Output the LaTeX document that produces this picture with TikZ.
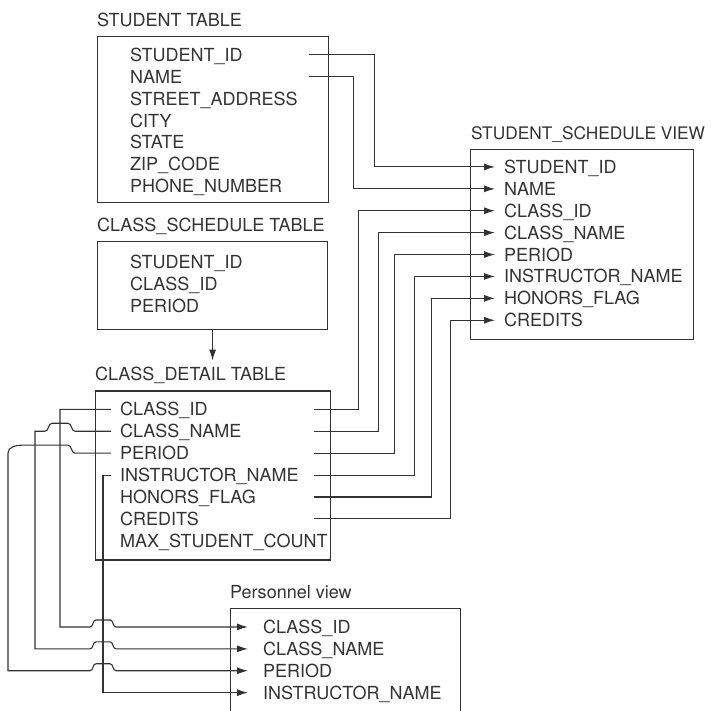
\documentclass[tikz,border=0pt]{standalone}
\usepackage{fontspec}
\setmainfont{TeX Gyre Heros}
\usetikzlibrary{positioning,arrows.meta}

\begin{document}
\begin{tikzpicture}[
    x=1pt, y=-1pt,
    font=\fontsize{18}{21.5}\selectfont,
    every node/.style={text=black!80},
    tbl/.style={draw=black!80, line width=1.2pt, anchor=north west, inner sep=0pt},
    tbltitle/.style={inner sep=0pt, text height=17.2pt, text depth=4.3pt},
    fld/.style={inner sep=0pt, text height=17.2pt, text depth=4.3pt},
    fldafter/.style={fld, below right=0pt and 0pt of #1.south west},
    link/.style={draw=black!80, line width=1.1pt},
    arrow/.style={link, -{Latex[length=11pt, width=7pt]}},
    hop/.style={insert path={to[out=0,in=180] ++(6,-7) -- ++(14,0) to[out=0,in=180] ++(6,7)}},
    hopl/.style={insert path={to[out=180,in=0] ++(-7,-8) -- ++(-16,0) to[out=180,in=0] ++(-7,8)}},
]
\useasboundingbox (0,0) rectangle (711,711);

% student table
\node[tbl, minimum width=231pt, minimum height=166pt] (stu) at (97,36) {};
\node[tbltitle, above right=5pt and 0pt of stu.north west] (stut) {STUDENT TABLE};
\node[fld, below right=8pt and 33pt of stu.north west] (s1) {STUDENT\_ID};
\node[fldafter=s1] (s2) {NAME};
\node[fldafter=s2] (s3) {STREET\_ADDRESS};
\node[fldafter=s3] (s4) {CITY};
\node[fldafter=s4] (s5) {STATE};
\node[fldafter=s5] (s6) {ZIP\_CODE};
\node[fldafter=s6] (s7) {PHONE\_NUMBER};

% class schedule table
\node[tbl, minimum width=230pt, minimum height=88pt, below right=38pt and 0pt of stu.south west] (cs) {};
\node[tbltitle, above right=5pt and 0pt of cs.north west] (cst) {CLASS\_SCHEDULE TABLE};
\node[fld, below right=10pt and 33pt of cs.north west] (c1) {STUDENT\_ID};
\node[fldafter=c1] (c2) {CLASS\_ID};
\node[fldafter=c2] (c3) {PERIOD};

% class detail table
\node[tbl, minimum width=235pt, minimum height=169pt, below right=60pt and -2pt of cs.south west] (cd) {};
\node[tbltitle, above right=5pt and 0pt of cd.north west] (cdt) {CLASS\_DETAIL TABLE};
\node[fld, below right=8pt and 25pt of cd.north west] (d1) {CLASS\_ID};
\node[fldafter=d1] (d2) {CLASS\_NAME};
\node[fldafter=d2] (d3) {PERIOD};
\node[fldafter=d3] (d4) {INSTRUCTOR\_NAME};
\node[fldafter=d4] (d5) {HONORS\_FLAG};
\node[fldafter=d5] (d6) {CREDITS};
\node[fldafter=d6] (d7) {MAX\_STUDENT\_COUNT};

% student schedule view
\node[tbl, minimum width=223pt, minimum height=190pt] (vw) at (470,149) {};
\node[tbltitle, font=\fontsize{17.3}{21.5}\selectfont, above right=5pt and 1pt of vw.north west] (vwt) {STUDENT\_SCHEDULE VIEW};
\node[fld, below right=7pt and 34pt of vw.north west] (v1) {STUDENT\_ID};
\node[fldafter=v1] (v2) {NAME};
\node[fldafter=v2] (v3) {CLASS\_ID};
\node[fldafter=v3] (v4) {CLASS\_NAME};
\node[fldafter=v4] (v5) {PERIOD};
\node[fldafter=v5] (v6) {INSTRUCTOR\_NAME};
\node[fldafter=v6] (v7) {HONORS\_FLAG};
\node[fldafter=v7] (v8) {CREDITS};

% personnel view
\node[tbl, minimum width=230pt, minimum height=120pt] (pv) at (230,608) {};
\node[tbltitle, above right=5pt and 0pt of pv.north west] (pvt) {Personnel view};
\node[fld, below right=8pt and 33pt of pv.north west] (p1) {CLASS\_ID};
\node[fldafter=p1] (p2) {CLASS\_NAME};
\node[fldafter=p2] (p3) {PERIOD};
\node[fldafter=p3] (p4) {INSTRUCTOR\_NAME};

\coordinate (stuR) at ([xshift=-20pt]stu.east);
\coordinate (detR) at ([xshift=-17pt]cd.east);
\coordinate (detL) at ([xshift=16pt]cd.west);
\coordinate (laneA) at (60,0);
\coordinate (laneB) at (35,0);
\coordinate (laneC) at (8,0);
\coordinate (laneI) at (103,0);

\draw[arrow, shorten >=3pt] (cs.south) -- (cs.south |- cdt.north);

\draw[arrow] (s1 -| stuR) -- ++(65,0) |- ([xshift=-9pt]v1.west);
\draw[arrow] (s2 -| stuR) -- ++(44,0) |- ([xshift=-9pt]v2.west);

\draw[arrow] (d1 -| detR) -- ++(44,0) |- ([xshift=-9pt]v3.west);
\draw[arrow] (d2 -| detR) -- ++(64,0) |- ([xshift=-9pt]v4.west);
\draw[arrow] (d3 -| detR) -- ++(80,0) |- ([xshift=-9pt]v5.west);
\draw[arrow] (d4 -| detR) -- ++(100,0) |- ([xshift=-9pt]v6.west);
\draw[arrow] (d5 -| detR) -- ++(117,0) |- ([xshift=-9pt]v7.west);
\draw[arrow] (d6 -| detR) -- ++(136,0) |- ([xshift=-9pt]v8.west);

\draw[arrow] (d1 -| detL) -| (p1 -| laneA) -- ([xshift=-13pt]p1 -| laneI) [hop] -- ([xshift=-15pt]p1.west);
\draw[arrow] (d2 -| detL) -- ([xshift=15pt]d2 -| laneA) [hopl] -- (d2 -| laneB) |- ([xshift=-13pt]p2 -| laneI) [hop] -- ([xshift=-15pt]p2.west);
\draw[arrow] (d3 -| detL) -- ([xshift=15pt]d3 -| laneA) to[out=180,in=0] ++(-7,-8) -- ([xshift=14pt, yshift=8pt]d3 -| laneC) to[out=180,in=90] (d3 -| laneC) |- ([xshift=-13pt]p3 -| laneI) [hop] -- ([xshift=-15pt]p3.west);
\draw[arrow] (d4 -| detL) -- (d4 -| laneI) |- ([xshift=-15pt]p4.west);
\end{tikzpicture}
\end{document}
